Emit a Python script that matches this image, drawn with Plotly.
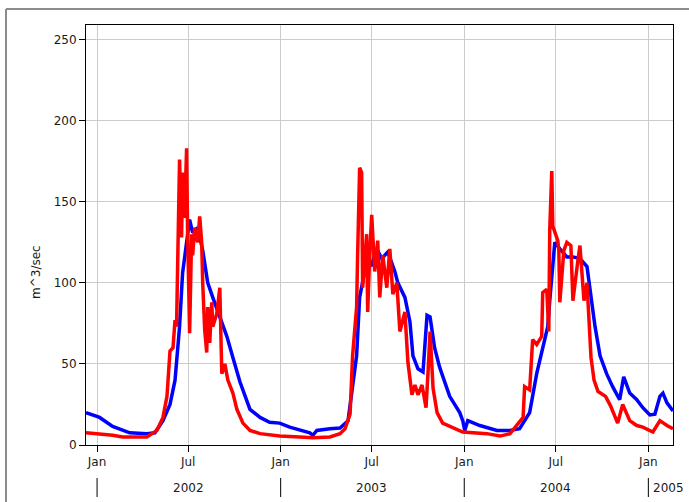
import plotly.graph_objects as go

# ---- data ----
blue_dates = [
    "2001-12-10", "2002-01-06", "2002-02-01", "2002-03-07", "2002-04-10", "2002-04-26",
    "2002-05-12", "2002-05-26", "2002-06-05", "2002-06-08", "2002-06-14", "2002-06-20",
    "2002-06-28", "2002-07-04", "2002-07-10", "2002-07-20", "2002-07-30", "2002-08-09",
    "2002-08-19", "2002-09-02", "2002-09-16", "2002-09-28", "2002-10-12", "2002-11-01",
    "2002-11-21", "2002-12-10", "2002-12-30", "2003-01-19", "2003-02-08", "2003-02-28",
    "2003-03-06", "2003-03-14", "2003-04-09", "2003-04-29", "2003-05-15", "2003-05-24",
    "2003-05-28", "2003-06-01", "2003-06-07", "2003-06-17", "2003-06-23", "2003-07-01",
    "2003-07-11", "2003-07-21", "2003-08-02", "2003-08-16", "2003-08-22", "2003-09-05",
    "2003-09-15", "2003-09-21", "2003-10-01", "2003-10-11", "2003-10-19", "2003-10-25",
    "2003-11-03", "2003-11-13", "2003-12-03", "2003-12-23", "2003-12-29", "2004-01-02",
    "2004-01-08", "2004-02-01", "2004-03-06", "2004-04-01", "2004-04-20", "2004-04-30",
    "2004-05-10", "2004-05-24", "2004-06-05", "2004-06-15", "2004-06-19", "2004-06-25",
    "2004-06-29", "2004-07-09", "2004-07-23", "2004-08-04", "2004-08-18", "2004-09-01",
    "2004-09-11", "2004-09-17", "2004-09-27", "2004-10-10", "2004-10-22", "2004-11-05",
    "2004-11-13", "2004-11-25", "2004-12-09", "2004-12-21", "2005-01-04", "2005-01-14",
    "2005-01-24", "2005-01-30", "2005-02-07", "2005-02-19",
]
blue_values = [
    20, 17, 11.5, 7.5, 7, 7.5,
    15, 25, 40, 50, 73, 106,
    125, 139, 131, 134, 120, 100,
    91, 79, 67, 54, 39, 22,
    17, 14, 13.5, 11, 9, 7.5,
    6, 9, 10, 10.5, 15, 35,
    45, 55, 91, 107, 111, 111,
    121, 115, 119, 107, 100, 91,
    76, 55, 47, 45, 80, 79,
    60, 48, 30, 20, 15, 9,
    15, 12, 9, 9, 10, 15,
    20, 44, 60, 73, 89, 115,
    125, 121, 116, 116, 115, 110,
    88, 73, 55, 44, 36, 28,
    42, 32, 28, 23, 18.5, 19,
    30, 32, 26, 21,
]

red_dates = [
    "2001-12-10", "2002-01-06", "2002-02-01", "2002-02-21", "2002-04-10", "2002-04-30",
    "2002-05-12", "2002-05-20", "2002-05-26", "2002-06-01", "2002-06-05", "2002-06-08",
    "2002-06-12", "2002-06-14", "2002-06-18", "2002-06-20", "2002-06-24", "2002-06-28",
    "2002-06-30", "2002-07-04", "2002-07-08", "2002-07-10", "2002-07-14", "2002-07-20",
    "2002-07-24", "2002-07-28", "2002-07-30", "2002-08-03", "2002-08-07", "2002-08-09",
    "2002-08-13", "2002-08-17", "2002-08-19", "2002-08-27", "2002-09-02", "2002-09-06",
    "2002-09-12", "2002-09-18", "2002-09-28", "2002-10-06", "2002-10-18", "2002-11-01",
    "2002-11-21", "2002-12-30", "2003-02-08", "2003-03-06", "2003-04-09", "2003-04-29",
    "2003-05-09", "2003-05-19", "2003-05-24", "2003-06-01", "2003-06-03", "2003-06-07",
    "2003-06-11", "2003-06-13", "2003-06-21", "2003-06-23", "2003-06-27", "2003-07-01",
    "2003-07-07", "2003-07-13", "2003-07-17", "2003-07-23", "2003-07-31", "2003-08-06",
    "2003-08-12", "2003-08-20", "2003-08-26", "2003-09-05", "2003-09-11", "2003-09-19",
    "2003-09-25", "2003-10-01", "2003-10-09", "2003-10-17", "2003-10-21", "2003-10-25",
    "2003-10-31", "2003-11-08", "2003-11-19", "2003-12-09", "2003-12-29", "2004-02-15",
    "2004-03-12", "2004-04-01", "2004-04-15", "2004-04-27", "2004-04-30", "2004-05-10",
    "2004-05-16", "2004-05-24", "2004-06-03", "2004-06-05", "2004-06-13", "2004-06-17",
    "2004-06-19", "2004-06-23", "2004-06-25", "2004-07-05", "2004-07-07", "2004-07-09",
    "2004-07-17", "2004-07-23", "2004-07-31", "2004-08-04", "2004-08-14", "2004-08-18",
    "2004-08-26", "2004-09-01", "2004-09-09", "2004-09-15", "2004-09-23", "2004-10-08",
    "2004-10-18", "2004-11-01", "2004-11-11", "2004-11-25", "2004-12-09", "2004-12-21",
    "2005-01-10", "2005-01-24", "2005-02-07", "2005-02-19",
]
red_values = [
    7.5, 7, 6, 5, 5, 9,
    17, 30, 58, 60, 77, 73,
    149, 176, 128, 168, 140, 183,
    131, 69, 130, 117, 134, 125,
    141, 125, 100, 71, 57, 85,
    63, 88, 73, 81, 97, 44,
    50, 40, 32, 22, 13.5, 9,
    7, 5.5, 5, 4.5, 5, 7,
    10, 19, 55, 85, 117, 171,
    168, 97, 130, 82, 117, 142,
    107, 126, 91, 117, 97, 121,
    93, 100, 70, 82, 51, 31,
    37, 31, 37, 23, 45, 70,
    35, 20, 13.5, 10.5, 8, 7,
    5.5, 7, 12, 17, 36, 34,
    65, 62, 67, 94, 96, 70,
    133, 169, 135, 126, 120, 88,
    120, 125, 123, 89, 114, 123,
    89, 100, 54, 40, 33, 30,
    24, 13.5, 25, 15, 12, 11,
    8, 15, 12, 10,
]

tick_dates = ["2002-01-01", "2002-07-01", "2003-01-01", "2003-07-01",
              "2004-01-01", "2004-07-01", "2005-01-01"]
tick_text = ["Jan", "Jul", "Jan", "Jul", "Jan", "Jul", "Jan"]
year_starts = ["2002-01-01", "2003-01-01", "2004-01-01", "2005-01-01"]
year_mid = ["2002-07-01", "2003-07-01", "2004-07-01", "2005-01-01"]
year_labels = ["2002", "2003", "2004", "2005"]
y_ticks = [0, 50, 100, 150, 200, 250]
x_range = ["2001-12-10", "2005-02-19"]
y_range = [0, 259]
y_title = "m^3/sec"

FONT = "DejaVu Sans"
TXT = "#1a1a1a"

fig = go.Figure()
fig.add_trace(go.Scatter(x=blue_dates, y=blue_values, mode="lines",
                         line=dict(color="#0000ff", width=3.5), showlegend=False))
fig.add_trace(go.Scatter(x=red_dates, y=red_values, mode="lines",
                         line=dict(color="#ff0000", width=3.5), showlegend=False))

shapes = []
# outer panel frame (left and top grey lines)
shapes.append(dict(type="line", xref="paper", yref="paper",
                   x0=(6 - 86) / 587, x1=(6 - 86) / 587,
                   y0=(445 - 9) / 420, y1=(445 - 520) / 420,
                   line=dict(color="#8c8c8c", width=2)))
shapes.append(dict(type="line", xref="paper", yref="paper",
                   x0=(6 - 86) / 587, x1=(700 - 86) / 587,
                   y0=(445 - 9) / 420, y1=(445 - 9) / 420,
                   line=dict(color="#8c8c8c", width=2)))
# year divider marks under the axis
for d in year_starts:
    shapes.append(dict(type="line", xref="x", yref="paper", x0=d, x1=d,
                       y0=(445 - 478) / 420, y1=(445 - 497) / 420,
                       line=dict(color="#000000", width=1)))

annotations = []
for i, (d, lab) in enumerate(zip(year_mid, year_labels)):
    last = i == len(year_labels) - 1
    annotations.append(dict(x=d, y=(445 - 488) / 420, xref="x", yref="paper",
                            text=lab, showarrow=False,
                            xanchor="left" if last else "center",
                            xshift=3 if last else 0,
                            yanchor="middle",
                            font=dict(family=FONT, size=12, color=TXT)))
annotations.append(dict(x=(36 - 86) / 587, y=(445 - 272) / 420, xref="paper", yref="paper",
                        text=y_title, showarrow=False, textangle=-90,
                        xanchor="center", yanchor="middle",
                        font=dict(family=FONT, size=12, color=TXT)))

fig.update_layout(
    width=689, height=502,
    margin=dict(l=86, r=16, t=25, b=57),
    paper_bgcolor="white", plot_bgcolor="white",
    font=dict(family=FONT, size=12, color=TXT),
    shapes=shapes, annotations=annotations,
    xaxis=dict(range=x_range, type="date", tickmode="array",
               tickvals=tick_dates, ticktext=tick_text,
               showgrid=True, gridcolor="#cccccc", gridwidth=1,
               showline=True, linecolor="black", linewidth=1, mirror=True,
               ticks="outside", ticklen=6, tickcolor="black",
               zeroline=False, tickfont=dict(family=FONT, size=12, color=TXT)),
    yaxis=dict(range=y_range, tickmode="array", tickvals=y_ticks,
               showgrid=True, gridcolor="#cccccc", gridwidth=1,
               showline=True, linecolor="black", linewidth=1, mirror=True,
               ticks="outside", ticklen=6, tickcolor="black",
               zeroline=False, tickfont=dict(family=FONT, size=12, color=TXT)),
)

fig.write_html("out.html", config={"displayModeBar": False},
               post_script="document.body.style.margin='0px';document.body.style.overflow='hidden';")
